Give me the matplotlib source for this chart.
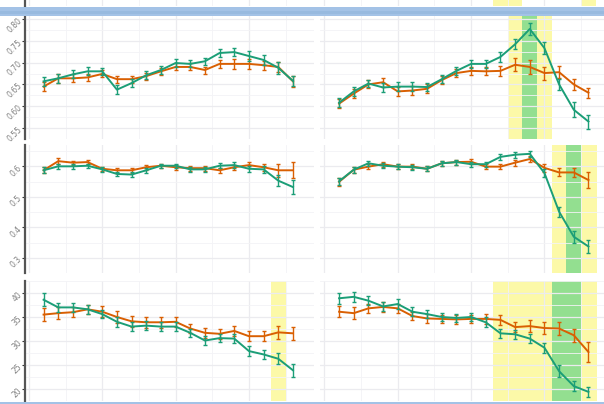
import numpy as np
import matplotlib
matplotlib.use('Agg')
import matplotlib.pyplot as plt
from matplotlib.patches import Rectangle

# data
x = np.arange(1, 19)

r1_left_green = [0.657, 0.664, 0.673, 0.680, 0.680, 0.638, 0.653, 0.671, 0.683, 0.699,
                 0.697, 0.703, 0.722, 0.724, 0.715, 0.706, 0.688, 0.658]
r1_left_green_err = [0.010, 0.010, 0.009, 0.009, 0.008, 0.010, 0.009, 0.009, 0.009, 0.009,
                     0.008, 0.008, 0.009, 0.010, 0.011, 0.012, 0.013, 0.012]
r1_left_orange = [0.645, 0.664, 0.664, 0.666, 0.674, 0.662, 0.662, 0.669, 0.680, 0.690,
                  0.690, 0.683, 0.697, 0.697, 0.697, 0.694, 0.690, 0.657]
r1_left_orange_err = [0.010, 0.010, 0.009, 0.009, 0.008, 0.008, 0.008, 0.008, 0.008, 0.008,
                      0.008, 0.008, 0.010, 0.012, 0.011, 0.010, 0.012, 0.012]

r1_right_green = [0.608, 0.634, 0.652, 0.643, 0.645, 0.645, 0.644, 0.662, 0.681, 0.697,
                  0.697, 0.713, 0.742, 0.777, 0.733, 0.650, 0.592, 0.565]
r1_right_green_err = [0.010, 0.010, 0.009, 0.010, 0.010, 0.010, 0.010, 0.009, 0.010, 0.009,
                      0.009, 0.011, 0.012, 0.013, 0.013, 0.013, 0.017, 0.016]
r1_right_orange = [0.606, 0.629, 0.650, 0.655, 0.634, 0.636, 0.640, 0.660, 0.676, 0.681,
                   0.680, 0.681, 0.695, 0.690, 0.676, 0.678, 0.650, 0.631]
r1_right_orange_err = [0.010, 0.010, 0.009, 0.010, 0.010, 0.010, 0.010, 0.009, 0.010, 0.009,
                       0.009, 0.011, 0.015, 0.016, 0.015, 0.014, 0.012, 0.011]

r2_left_green = [0.587, 0.600, 0.600, 0.602, 0.590, 0.575, 0.573, 0.587, 0.602, 0.602,
                 0.590, 0.590, 0.602, 0.604, 0.592, 0.590, 0.553, 0.532]
r2_left_green_err = [0.010, 0.008, 0.008, 0.007, 0.007, 0.008, 0.008, 0.008, 0.007, 0.007,
                     0.008, 0.008, 0.009, 0.009, 0.010, 0.012, 0.017, 0.022]
r2_left_orange = [0.587, 0.617, 0.612, 0.614, 0.592, 0.587, 0.587, 0.597, 0.602, 0.597,
                  0.594, 0.594, 0.587, 0.597, 0.604, 0.597, 0.587, 0.587]
r2_left_orange_err = [0.010, 0.009, 0.007, 0.007, 0.007, 0.009, 0.009, 0.008, 0.007, 0.008,
                      0.008, 0.008, 0.008, 0.009, 0.009, 0.012, 0.022, 0.026]

r2_right_green = [0.551, 0.589, 0.610, 0.602, 0.599, 0.597, 0.592, 0.610, 0.614, 0.607,
                  0.607, 0.631, 0.638, 0.641, 0.578, 0.451, 0.369, 0.337]
r2_right_green_err = [0.012, 0.010, 0.009, 0.008, 0.008, 0.008, 0.008, 0.008, 0.008, 0.008,
                      0.008, 0.010, 0.010, 0.010, 0.012, 0.017, 0.020, 0.021]
r2_right_orange = [0.549, 0.589, 0.599, 0.607, 0.599, 0.599, 0.592, 0.610, 0.614, 0.615,
                   0.599, 0.599, 0.612, 0.624, 0.595, 0.580, 0.580, 0.555]
r2_right_orange_err = [0.012, 0.010, 0.009, 0.008, 0.008, 0.008, 0.008, 0.008, 0.008, 0.008,
                       0.008, 0.008, 0.010, 0.010, 0.012, 0.013, 0.014, 0.025]

r3_left_green = [38.6, 37.0, 37.0, 36.6, 35.6, 34.0, 33.0, 33.2, 33.0, 33.0,
                 31.7, 30.1, 30.6, 30.5, 27.9, 27.2, 26.3, 23.9]
r3_left_green_err = [1.4, 1.0, 1.0, 1.0, 0.9, 1.0, 0.9, 0.9, 0.9, 0.9,
                     0.9, 1.0, 0.9, 1.0, 1.0, 1.0, 1.1, 1.3]
r3_left_orange = [35.5, 35.8, 36.0, 36.6, 36.1, 35.0, 34.1, 33.9, 33.9, 34.0,
                  32.6, 31.7, 31.5, 32.1, 31.0, 31.0, 31.8, 31.6]
r3_left_orange_err = [1.4, 1.3, 1.1, 1.0, 1.1, 1.2, 1.2, 1.1, 1.1, 1.1,
                      1.0, 1.0, 1.0, 1.0, 1.1, 1.1, 1.3, 1.4]

r3_right_green = [38.9, 39.2, 38.4, 37.2, 37.7, 36.1, 35.6, 35.0, 34.8, 35.0,
                  33.9, 31.6, 31.4, 30.5, 28.6, 23.7, 20.6, 19.4]
r3_right_green_err = [1.1, 1.1, 1.0, 1.0, 1.0, 0.9, 0.9, 0.9, 0.9, 0.9,
                      1.0, 0.9, 0.9, 0.9, 1.0, 1.3, 1.1, 1.0]
r3_right_orange = [36.1, 35.8, 36.8, 37.1, 36.8, 35.2, 34.7, 34.6, 34.5, 34.6,
                   34.6, 34.4, 32.9, 33.1, 32.7, 32.6, 31.2, 27.7]
r3_right_orange_err = [1.1, 1.2, 1.0, 1.0, 1.0, 0.9, 0.9, 0.9, 0.9, 0.9,
                       1.0, 1.0, 1.0, 1.2, 1.2, 1.4, 1.4, 2.0]

# highlight bands (yellow spans, green spans) per panel
bands = {
    'r0_right': ([(11.5, 13.5), (17.5, 18.5)], []),
    'r1_right': ([(12.5, 15.5)], [(13.5, 14.5)]),
    'r2_right': ([(15.5, 18.6)], [(16.5, 17.5)]),
    'r3_left': ([(16.5, 17.5)], []),
    'r3_right': ([(11.5, 18.6)], [(15.5, 17.5)]),
}

W, H = 604, 404
GREEN = '#1b9e77'
ORANGE = '#d95f02'
YELLOW = '#fcf9a8'
LGREEN = '#93df90'

fig = plt.figure(figsize=(W / 100, H / 100), dpi=100)
fig.patch.set_facecolor('white')


def px_axes(x0, y0, x1, y1):
    return fig.add_axes([x0 / W, (H - y1) / H, (x1 - x0) / W, (y1 - y0) / H])


def style(ax, ylim, yticks, fmt, left):
    ax.set_xlim(-0.3, 19.4)
    ax.set_ylim(*ylim)
    ax.set_xticks([0, 5, 10, 15])
    ax.set_xticks([2.5, 7.5, 12.5, 17.5], minor=True)
    ax.set_yticks(yticks)
    step = yticks[1] - yticks[0] if len(yticks) > 1 else 0.5
    ax.set_yticks([t + step / 2 for t in [yticks[0] - step] + list(yticks)], minor=True)
    ax.grid(which='major', color='#ebebef', linewidth=0.9)
    ax.grid(which='minor', color='#f3f3f6', linewidth=0.6)
    ax.set_axisbelow(True)
    for s in ['top', 'right', 'bottom']:
        ax.spines[s].set_visible(False)
    ax.tick_params(axis='x', which='both', length=0, labelbottom=False)
    ax.tick_params(axis='y', which='minor', length=0)
    if left:
        ax.spines['left'].set_color('#555555')
        ax.spines['left'].set_linewidth(1.6)
        ax.tick_params(axis='y', which='major', length=2, width=0.8, color='#333333',
                       pad=1, labelsize=5.5, labelcolor='#808080')
        ax.set_yticklabels([fmt % t for t in yticks], rotation=45, ha='right',
                           va='center', rotation_mode='anchor')
    else:
        ax.spines['left'].set_visible(False)
        ax.tick_params(axis='y', which='major', length=0, labelleft=False)


def draw_bands(ax, key):
    if key not in bands:
        return
    ylo, yhi = bands[key]
    for a, b in ylo:
        ax.axvspan(a, b, color=YELLOW, lw=0, zorder=0.1)
    for a, b in yhi:
        ax.axvspan(a, b, color=LGREEN, lw=0, zorder=0.2)


def draw_series(ax, g, ge, o, oe):
    ax.errorbar(x, o, yerr=oe, color=ORANGE, lw=1.4, elinewidth=1.0,
                capsize=1.6, capthick=1.0, zorder=3)
    ax.errorbar(x, g, yerr=ge, color=GREEN, lw=1.4, elinewidth=1.0,
                capsize=1.6, capthick=1.0, zorder=4)


LX0, LX1 = 24.5, 313.5
RX0, RX1 = 320, 609

rows = [
    (8, 139, (0.5375, 0.8104), [0.55, 0.60, 0.65, 0.70, 0.75, 0.80], '%.2f',
     (r1_left_green, r1_left_green_err, r1_left_orange, r1_left_orange_err),
     (r1_right_green, r1_right_green_err, r1_right_orange, r1_right_orange_err), 'r1'),
    (145, 273, (0.297, 0.670), [0.3, 0.4, 0.5, 0.6], '%.1f',
     (r2_left_green, r2_left_green_err, r2_left_orange, r2_left_orange_err),
     (r2_right_green, r2_right_green_err, r2_right_orange, r2_right_orange_err), 'r2'),
    (281, 401, (17.88, 41.1), [20, 25, 30, 35, 40], '%d',
     (r3_left_green, r3_left_green_err, r3_left_orange, r3_left_orange_err),
     (r3_right_green, r3_right_green_err, r3_right_orange, r3_right_orange_err), 'r3'),
]

# partial row cut off at the top of the picture
for x0, x1, left, key in [(LX0, LX1, True, 'r0_left'), (RX0, RX1, False, 'r0_right')]:
    ax = px_axes(x0, -80, x1, 6)
    style(ax, (0.0, 1.0), [0.0], '%.1f', left)
    draw_bands(ax, key)

for y0, y1, ylim, yticks, fmt, ldata, rdata, tag in rows:
    axl = px_axes(LX0, y0, LX1, y1)
    style(axl, ylim, yticks, fmt, True)
    draw_bands(axl, tag + '_left')
    draw_series(axl, *ldata)

    axr = px_axes(RX0, y0, RX1, y1)
    style(axr, ylim, yticks, fmt, False)
    draw_bands(axr, tag + '_right')
    draw_series(axr, *rdata)

# blue selection bar across the top and thin line at the bottom
fig.patches.append(Rectangle((0, (H - 16) / H), 1, 9 / H, transform=fig.transFigure,
                             facecolor='#a3c2e6', edgecolor='none', zorder=10))
fig.patches.append(Rectangle((0, (H - 14) / H), 1, 3 / H, transform=fig.transFigure,
                             facecolor='#98badf', edgecolor='none', zorder=11))
fig.patches.append(Rectangle((0, 0), 1, 2.5 / H, transform=fig.transFigure,
                             facecolor='#a3c2e6', edgecolor='none', zorder=10))

fig.savefig('out.png', dpi=100)
